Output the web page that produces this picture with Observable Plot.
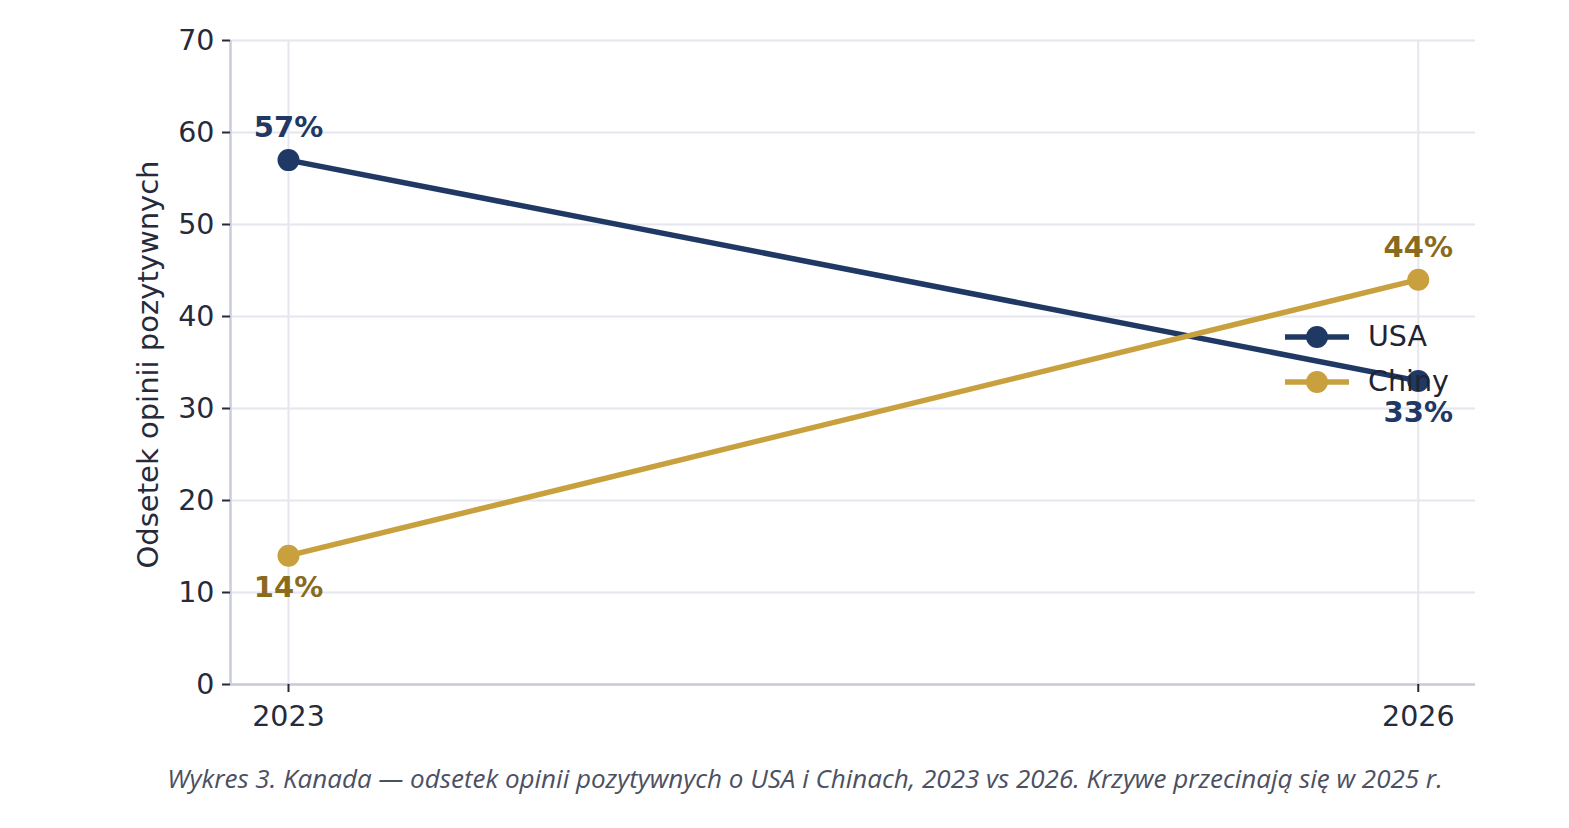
<!DOCTYPE html>
<html>
<head>
<meta charset="utf-8">
<script src="https://cdn.jsdelivr.net/npm/d3@7"></script>
<script src="https://cdn.jsdelivr.net/npm/@observablehq/plot@0.6"></script>
<style>
  html, body { margin: 0; padding: 0; background: #ffffff; }
  #wrap { position: relative; width: 1569px; height: 828px; }
  #legend { position: absolute; left: 1285px; top: 314px; font-family: "DejaVu Sans", sans-serif; font-size: 28.5px; color: #1f2433; }
  .li { display: flex; align-items: center; height: 45px; }
  .li svg { margin-right: 19px; }
  #caption { position: absolute; top: 760px; left: 0; width: 1610px; text-align: center; font-family: "Open Sans", sans-serif; font-style: italic; font-size: 26px; color: #4b5062; }
</style>
</head>
<body>
<div id="wrap">
  <div id="chart"></div>
  <div id="legend"></div>
  <div id="caption">Wykres 3. Kanada — odsetek opinii pozytywnych o USA i Chinach, 2023 vs 2026. Krzywe przecinają się w 2025 r.</div>
</div>
<script>
const years = [2023, 2026];
const seriesNames = ["USA", "Chiny"];
const usaValues = [57, 33];
const chinyValues = [14, 44];
const labelSides = { USA: ["above", "below"], Chiny: ["below", "above"] };
const yTicks = [0, 10, 20, 30, 40, 50, 60, 70];
const yLabel = "Odsetek opinii pozytywnych";

const lineColors = { USA: "#1f3864", Chiny: "#c9a03e" };
const labelColors = { USA: "#1f3864", Chiny: "#8a6a1c" };

const rows = [];
years.forEach((yr, i) => {
  rows.push({ series: "USA", year: yr, value: usaValues[i], side: labelSides.USA[i] });
  rows.push({ series: "Chiny", year: yr, value: chinyValues[i], side: labelSides.Chiny[i] });
});

const xDomain = [2022.846, 2026.152];

const chart = Plot.plot({
  width: 1569,
  height: 740,
  marginLeft: 230,
  marginRight: 94,
  marginTop: 40,
  marginBottom: 56,
  style: { fontFamily: "DejaVu Sans, sans-serif", fontSize: "28.5px", color: "#262a3a", background: "#ffffff" },
  x: { domain: xDomain },
  y: { domain: [0, 70] },
  marks: [
    Plot.gridY(yTicks, { stroke: "#e6e6ee", strokeOpacity: 1, strokeWidth: 2 }),
    Plot.gridX(years, { stroke: "#e6e6ee", strokeOpacity: 1, strokeWidth: 2 }),
    Plot.ruleY([0], { stroke: "#c9cbd8", strokeWidth: 2.5 }),
    Plot.ruleX([xDomain[0]], { stroke: "#c9cbd8", strokeWidth: 2.5 }),
    Plot.axisY(yTicks, { tickSize: 8, tickPadding: 8, label: null, stroke: "#262a3a", strokeWidth: 2 }),
    Plot.axisX(years, { tickSize: 8, tickPadding: 13, label: null, tickFormat: d => String(d), stroke: "#262a3a", strokeWidth: 2 }),
    Plot.text([yLabel], { frameAnchor: "left", textAnchor: "middle", lineAnchor: "middle", rotate: -90, dx: -82, dy: 2, fill: "#262a3a", fontSize: 29 }),
    Plot.line(rows, { x: "year", y: "value", z: "series", stroke: d => lineColors[d.series], strokeWidth: 5.5 }),
    Plot.dot(rows, { x: "year", y: "value", r: 11, fill: d => lineColors[d.series], stroke: "none" }),
    Plot.text(rows.filter(d => d.side === "above"), { x: "year", y: "value", text: d => d.value + "%", dy: -32, fill: d => labelColors[d.series], fontWeight: "bold", fontSize: 29 }),
    Plot.text(rows.filter(d => d.side === "below"), { x: "year", y: "value", text: d => d.value + "%", dy: 32, fill: d => labelColors[d.series], fontWeight: "bold", fontSize: 29 })
  ]
});
document.getElementById("chart").appendChild(chart);

const legend = document.getElementById("legend");
seriesNames.forEach(name => {
  const c = lineColors[name];
  const item = document.createElement("div");
  item.className = "li";
  item.innerHTML = `<svg width="64" height="30"><line x1="0" x2="64" y1="15" y2="15" stroke="${c}" stroke-width="5.5"/><circle cx="32" cy="15" r="11" fill="${c}"/></svg><span>${name}</span>`;
  legend.appendChild(item);
});
</script>
</body>
</html>
